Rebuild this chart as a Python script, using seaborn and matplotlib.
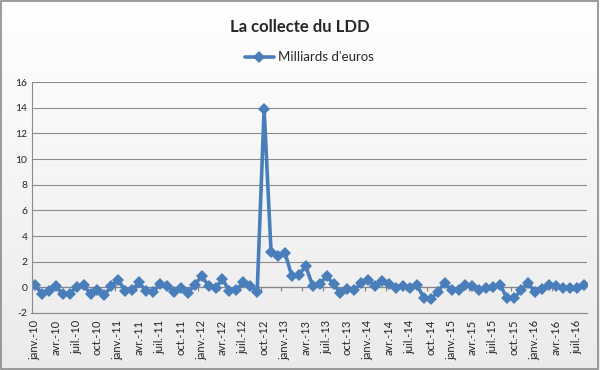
import numpy as np
import pandas as pd
import matplotlib
matplotlib.use("Agg")
import matplotlib.pyplot as plt
import seaborn as sns
from matplotlib.patches import Rectangle

# ---- data ----
month_abbr = ["janv.", "févr.", "mars", "avr.", "mai", "juin",
              "juil.", "août", "sept.", "oct.", "nov.", "déc."]
years = ["10", "11", "12", "13", "14", "15", "16"]
months = [f"{m}-{y}" for y in years for m in month_abbr][:80]   # janv.-10 .. août-16

collecte = [
    0.2, -0.5, -0.3, 0.1, -0.55, -0.5, 0.05, 0.2, -0.55, -0.2, -0.6, 0.1,      # 2010
    0.55, -0.25, -0.2, 0.38, -0.3, -0.36, 0.26, 0.13, -0.38, -0.05, -0.46, 0.2,  # 2011
    0.87, 0.13, -0.05, 0.62, -0.26, -0.2, 0.38, 0.08, -0.36, 13.9, 2.74, 2.48,  # 2012
    2.69, 0.87, 1.0, 1.64, 0.1, 0.25, 0.87, 0.25, -0.46, -0.13, -0.2, 0.32,     # 2013
    0.58, 0.08, 0.46, 0.28, -0.03, 0.1, -0.03, 0.18, -0.82, -0.92, -0.36, 0.37,  # 2014
    -0.23, -0.18, 0.2, 0.1, -0.2, -0.03, 0.0, 0.18, -0.87, -0.83, -0.23, 0.37,  # 2015
    -0.4, -0.15, 0.2, 0.08, -0.07, -0.05, -0.02, 0.22,                          # 2016
]
series_name = "Milliards d'euros"
title = "La collecte du LDD"
y_ticks = [-2, 0, 2, 4, 6, 8, 10, 12, 14, 16]

df = pd.DataFrame({"idx": np.arange(len(collecte)), "val": collecte})

sns.set_style("white")
plt.rcParams["font.family"] = ["Lato", "DejaVu Sans"]

fig = plt.figure(figsize=(6.0, 3.7), dpi=100)

# gradient background
bg = fig.add_axes([0, 0, 1, 1], zorder=-10)
grad = np.linspace(1.0, 0.92, 256).reshape(-1, 1)
bg.imshow(np.dstack([grad, grad, grad]), aspect="auto", extent=[0, 1, 0, 1])
bg.axis("off")

ax = fig.add_axes([31.5 / 600, (370 - 313) / 370, (587 - 31.5) / 600, (313 - 82) / 370])
ax.set_facecolor("none")

color = "#4A7EBB"
sns.lineplot(data=df, x="idx", y="val", ax=ax, color=color, lw=2.6,
             marker="D", markersize=6, markeredgewidth=0, label=series_name)

ax.set_xlim(-0.5, len(collecte) - 0.5)
ax.set_ylim(-2, 16)
ax.set_yticks(y_ticks)
ax.set_yticklabels([str(t) for t in y_ticks], fontsize=7.5)
ax.yaxis.grid(True, color="#8c8c8c", lw=0.8)
ax.set_axisbelow(True)

pos = list(range(0, len(collecte), 3))
ax.set_xticks(pos)
ax.set_xticklabels([months[i] for i in pos], rotation=90, fontsize=8)
ax.tick_params(axis="both", length=0, pad=3)
ax.tick_params(axis="x", pad=5)
ax.set_xlabel("")
ax.set_ylabel("")

# category axis at 0
ax.axhline(0, color="#868686", lw=0.9, zorder=1)
ax.vlines([p - 0.5 for p in pos], -0.3, 0, color="#868686", lw=0.9, zorder=1)

for s in ["top", "right"]:
    ax.spines[s].set_visible(False)
for s in ["left", "bottom"]:
    ax.spines[s].set_color("#8c8c8c")
    ax.spines[s].set_linewidth(0.8)

leg = ax.legend(loc="lower center", bbox_to_anchor=(0.5, 1.03), frameon=False,
                fontsize=9.5, handlelength=2.2, handletextpad=0.3)

fig.text(0.5, 0.928, title, ha="center", va="center", fontsize=12, fontweight="bold")

fig.patches.append(Rectangle((0.002, 0.003), 0.995, 0.993, transform=fig.transFigure,
                             fill=False, edgecolor="#8a8a8a", lw=1.2))

fig.savefig("out.png", dpi=100)
